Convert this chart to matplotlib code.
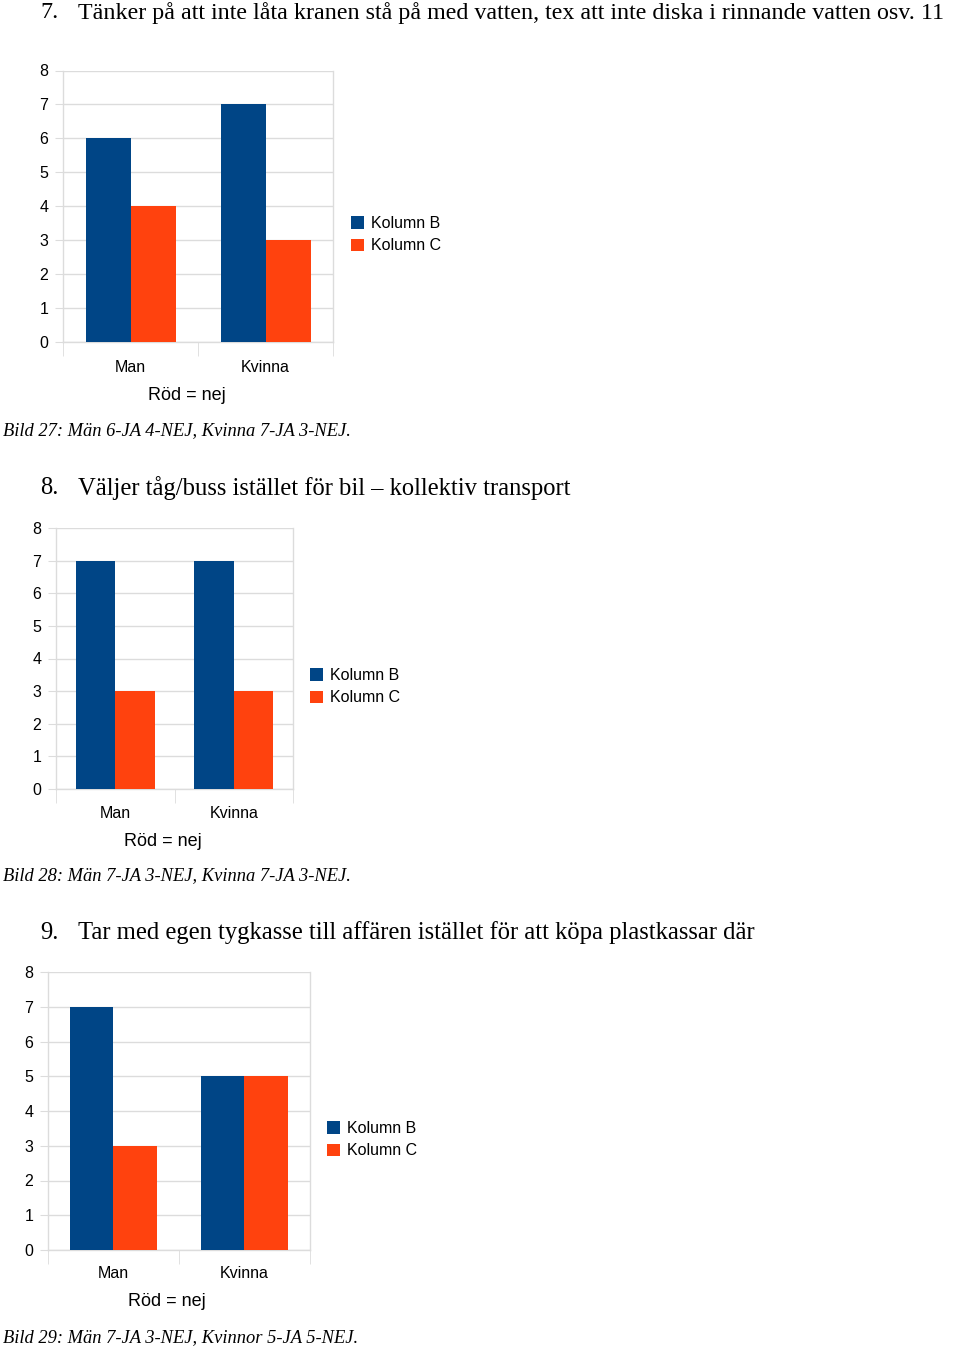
import matplotlib
matplotlib.use('Agg')
import matplotlib.pyplot as plt
import numpy as np

# data
categories = ['Man', 'Kvinna']
series_names = ['Kolumn B', 'Kolumn C']
q7_ja = [6, 7]
q7_nej = [4, 3]
q8_ja = [7, 7]
q8_nej = [3, 3]
q9_ja = [7, 5]
q9_nej = [3, 5]

headings = [
    ('7.', 'Tänker på att inte låta kranen stå på med vatten, tex att inte diska i rinnande vatten osv. 11'),
    ('8.', 'Väljer tåg/buss istället för bil – kollektiv transport'),
    ('9.', 'Tar med egen tygkasse till affären istället för att köpa plastkassar där'),
]
captions = [
    'Bild 27: Män 6-JA 4-NEJ, Kvinna 7-JA 3-NEJ.',
    'Bild 28: Män 7-JA 3-NEJ, Kvinna 7-JA 3-NEJ.',
    'Bild 29: Män 7-JA 3-NEJ, Kvinnor 5-JA 5-NEJ.',
]

BLUE = '#004586'
ORANGE = '#ff420e'
GRID = '#dcdcdc'

W, H = 960, 1349
fig = plt.figure(figsize=(W / 100, H / 100), dpi=100)


def px(x, y):
    return x / W, 1 - y / H


def draw_chart(ja, nej, box, legend_xy, head_y, xlab_y, rod_xy, cap_y, head, caption, head_size):
    left, right, top, bottom = box
    ax = fig.add_axes([left / W, 1 - bottom / H, (right - left) / W, (bottom - top) / H])
    x = np.arange(len(categories))
    w = 1 / 3
    ax.bar(x - w / 2, ja, w, color=BLUE, label=series_names[0], zorder=3)
    ax.bar(x + w / 2, nej, w, color=ORANGE, label=series_names[1], zorder=3)
    ax.set_xlim(-0.5, 1.5)
    ax.set_ylim(0, 8)
    ax.set_yticks(range(9))
    ax.yaxis.grid(True, color=GRID, linewidth=1, zorder=0)
    for s in ax.spines.values():
        s.set_color(GRID)
        s.set_linewidth(1)
    ax.spines['top'].set_visible(False)
    ax.tick_params(axis='y', length=6, color=GRID, labelsize=11.5, pad=4.5)
    for t in ax.get_yticklabels():
        t.set_family('Liberation Sans')
    ax.set_xticks([-0.5, 0.5, 1.5], minor=True)
    ax.tick_params(axis='x', which='minor', length=10, color=GRID)
    ax.set_xticks(x)
    ax.set_xticklabels([])
    ax.tick_params(axis='x', which='major', length=0)
    # category labels
    for i, c in enumerate(categories):
        xd = ax.transData.transform((x[i], 0))[0]
        fig.text(xd / W, 1 - xlab_y / H, c, ha='center', va='center', fontsize=11.5,
                 family='Liberation Sans')
    fig.text(*px(*rod_xy), 'Röd = nej', ha='center', va='center', fontsize=13,
             family='Liberation Sans')
    fig.legend(handles=ax.patches[:1] + ax.patches[2:3], labels=series_names,
               loc='upper left', bbox_to_anchor=px(*legend_xy), frameon=False,
               handlelength=0.8, handleheight=0.8, handletextpad=0.45,
               labelspacing=0.45, borderpad=0, borderaxespad=0,
               prop={'family': 'Liberation Sans', 'size': 11.5})
    fig.text(*px(40, head_y), head[0], ha='left', va='center', fontsize=head_size,
             family='Liberation Serif')
    fig.text(*px(78, head_y), head[1], ha='left', va='center', fontsize=head_size,
             family='Liberation Serif')
    fig.text(*px(3, cap_y), caption, ha='left', va='center', fontsize=13.3,
             family='Liberation Serif', style='italic')
    return ax


draw_chart(q7_ja, q7_nej, (63, 333, 70.5, 342), (351, 216), 13, 367, (187, 395), 431,
           headings[0], captions[0], 17.3)
draw_chart(q8_ja, q8_nej, (56, 293, 528, 789), (310, 668), 488, 813, (163, 841), 876,
           headings[1], captions[1], 17.7)
draw_chart(q9_ja, q9_nej, (48, 310, 972, 1250), (327, 1121), 933, 1274, (167, 1302), 1338,
           headings[2], captions[2], 17.7)

fig.savefig('out.png', dpi=100)
